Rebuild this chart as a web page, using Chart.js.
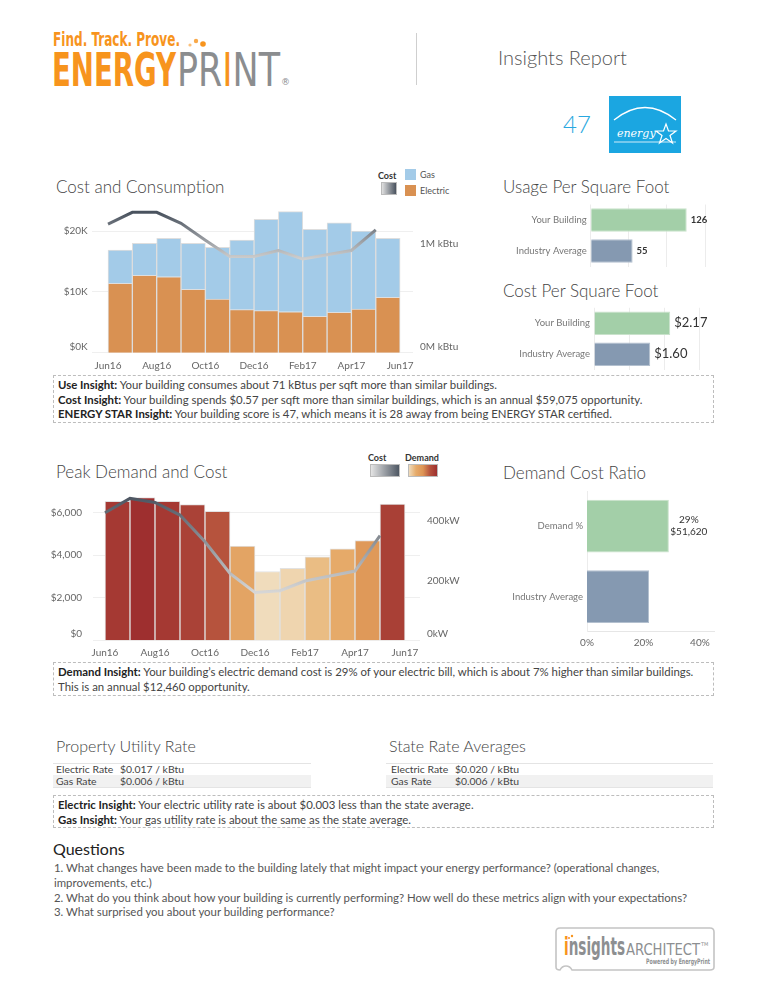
<!DOCTYPE html>
<html>
<head>
<meta charset="utf-8">
<script src="https://cdn.jsdelivr.net/npm/chart.js@4.4.1/dist/chart.umd.min.js"></script>
<style>
  body { margin:0; width:768px; height:996px; position:relative; background:#fff; font-family:Lato, sans-serif; color:#555; overflow:hidden; }
  canvas, .abs { position:absolute; }
  .title { position:absolute; font-size:17px; font-weight:300; color:#444; white-space:nowrap; line-height:20px; }
  .leg { position:absolute; font-size:9px; color:#555; white-space:nowrap; line-height:11px; }
  .leg b { color:#333; }
  .sw { position:absolute; border:1px solid #bbb; box-sizing:border-box; }
  .box { position:absolute; left:53px; width:661px; border:1px dashed #bdbdbd; box-sizing:border-box; font-size:11.4px; color:#444; line-height:14.5px; padding:2px 4px; white-space:nowrap; }
  .box b { color:#222; font-weight:700; }
  .rate { position:absolute; font-size:10.4px; color:#444; line-height:12px; white-space:nowrap; }
  .row { position:absolute; height:12px; }
  .q { position:absolute; left:54px; font-size:11.4px; color:#555; line-height:14.8px; white-space:nowrap; }
</style>
</head>
<body>

<!-- header -->
<svg class="abs" style="left:0;top:0" width="768" height="170">
  <text x="53" y="46" font-family="Liberation Sans Narrow, DejaVu Sans Condensed" font-weight="700" font-size="19" fill="#f7941d" textLength="127" lengthAdjust="spacingAndGlyphs">Find. Track. Prove.</text>
  <circle cx="190" cy="45" r="1.6" fill="#fbc07a"/>
  <circle cx="196" cy="41" r="2.2" fill="#f9a94a"/>
  <circle cx="203" cy="44" r="2.8" fill="#f7941d"/>
  <text x="52" y="86" font-family="Liberation Sans Narrow, DejaVu Sans Condensed" font-weight="700" font-size="46" fill="#f7941d" textLength="124" lengthAdjust="spacingAndGlyphs">ENERGY</text>
  <text x="177" y="86" font-family="Liberation Sans Narrow, DejaVu Sans Condensed" font-size="46" fill="#8b8d8f" textLength="103" lengthAdjust="spacingAndGlyphs">PR<tspan fill="#f7941d">I</tspan>NT</text>
  <text x="281" y="85" font-family="DejaVu Sans" font-size="9" fill="#8b8d8f">®</text>
  <line x1="416.5" y1="33" x2="416.5" y2="85" stroke="#cfcfcf" stroke-width="1"/>
  <text x="498" y="65" font-family="Lato" font-weight="300" font-size="20" fill="#555">Insights Report</text>
  <text x="563" y="133" font-family="Lato" font-weight="300" font-size="24" fill="#29a8e0">47</text>
  <rect x="609" y="96" width="72" height="57" fill="#1ba6e1"/>
  <path d="M614 120 Q645 95 676 120" fill="none" stroke="#fff" stroke-width="1.3"/>
  <text x="617" y="137" font-family="DejaVu Serif" font-style="italic" font-size="11" fill="#fff">energy</text>
  <path d="M666 124 L668.5 131 L676 131 L670 135.5 L672.5 143 L666 138.5 L659.5 143 L662 135.5 L656 131 L663.5 131 Z" fill="none" stroke="#fff" stroke-width="1.2"/>
  <line x1="614" y1="142" x2="676" y2="142" stroke="#fff" stroke-width="0.8"/>
</svg>

<!-- Cost and Consumption -->
<div class="title" style="left:56px;top:177px">Cost and Consumption</div>
<div class="leg" style="left:378px;top:170px"><b>Cost</b></div>
<div class="sw" style="left:381px;top:182px;width:16px;height:13px;background:linear-gradient(to right,#e0e0e0,#49525e)"></div>
<div class="sw" style="left:405px;top:169px;width:11px;height:11px;background:#a3cbe8;border:none"></div>
<div class="leg" style="left:420px;top:169px">Gas</div>
<div class="sw" style="left:405px;top:185px;width:11px;height:11px;background:#d99152;border:none"></div>
<div class="leg" style="left:420px;top:185px">Electric</div>
<canvas id="ccChart" width="415" height="180" style="left:55px;top:195px"></canvas>

<!-- Usage / Cost per sqft -->
<div class="title" style="left:503px;top:177px">Usage Per Square Foot</div>
<canvas id="usageChart" width="230" height="70" style="left:490px;top:200px"></canvas>
<div class="title" style="left:503px;top:281px">Cost Per Square Foot</div>
<canvas id="costSqftChart" width="230" height="66" style="left:490px;top:305px"></canvas>

<div class="box" style="top:375px;height:48px">
  <div><b>Use Insight:</b> Your building consumes about 71 kBtus per sqft more than similar buildings.</div>
  <div><b>Cost Insight:</b> Your building spends $0.57 per sqft more than similar buildings, which is an annual $59,075 opportunity.</div>
  <div><b>ENERGY STAR Insight:</b> Your building score is 47, which means it is 28 away from being ENERGY STAR certified.</div>
</div>

<!-- Peak Demand and Cost -->
<div class="title" style="left:56px;top:462px">Peak Demand and Cost</div>
<div class="leg" style="left:368px;top:452px"><b>Cost</b></div>
<div class="sw" style="left:370px;top:464px;width:30px;height:13px;background:linear-gradient(to right,#e4e4e4,#4e5763)"></div>
<div class="leg" style="left:405px;top:452px"><b>Demand</b></div>
<div class="sw" style="left:408px;top:464px;width:30px;height:13px;background:linear-gradient(to right,#f0dcbc,#e6ab6a,#dd9455,#b5523d,#9e2f2f)"></div>
<canvas id="demandChart" width="420" height="172" style="left:50px;top:488px"></canvas>

<div class="title" style="left:503px;top:463px">Demand Cost Ratio</div>
<canvas id="ratioChart" width="230" height="160" style="left:490px;top:490px"></canvas>

<div class="box" style="top:662px;height:34px">
  <div><b>Demand Insight:</b> Your building’s electric demand cost is 29% of your electric bill, which is about 7% higher than similar buildings.</div>
  <div>This is an annual $12,460 opportunity.</div>
</div>

<!-- Rates -->
<div class="title" style="left:56px;top:736px;font-size:16px">Property Utility Rate</div>
<div class="title" style="left:389px;top:736px;font-size:16px">State Rate Averages</div>
<div class="row" style="left:53px;top:763px;width:258px;border-top:1px solid #e4e4e4"></div>
<div class="row" style="left:53px;top:775px;width:258px;background:#f1f1f1;border-bottom:1px solid #e4e4e4"></div>
<div class="rate" style="left:56px;top:763px">Electric Rate</div>
<div class="rate" style="left:120px;top:763px">$0.017 / kBtu</div>
<div class="rate" style="left:56px;top:775px">Gas Rate</div>
<div class="rate" style="left:120px;top:775px">$0.006 / kBtu</div>
<div class="row" style="left:386px;top:763px;width:327px;border-top:1px solid #e4e4e4"></div>
<div class="row" style="left:386px;top:775px;width:327px;background:#f1f1f1;border-bottom:1px solid #e4e4e4"></div>
<div class="rate" style="left:391px;top:763px">Electric Rate</div>
<div class="rate" style="left:455px;top:763px">$0.020 / kBtu</div>
<div class="rate" style="left:391px;top:775px">Gas Rate</div>
<div class="rate" style="left:455px;top:775px">$0.006 / kBtu</div>

<div class="box" style="top:795px;height:33px">
  <div><b>Electric Insight:</b> Your electric utility rate is about $0.003 less than the state average.</div>
  <div><b>Gas Insight:</b> Your gas utility rate is about the same as the state average.</div>
</div>

<!-- Questions -->
<div class="title" style="left:53px;top:839px;font-size:16px;font-weight:400;color:#222">Questions</div>
<div class="q" style="top:861px">1. What changes have been made to the building lately that might impact your energy performance? (operational changes,<br>improvements, etc.)<br>2. What do you think about how your building is currently performing? How well do these metrics align with your expectations?<br>3. What surprised you about your building performance?</div>

<!-- footer logo -->
<svg class="abs" style="left:550px;top:922px" width="170" height="55">
  <path d="M10 6 H160 Q164 6 164 10 V45 Q164 48 160 48 H22 Q20 44 16 44 Q12 44 10 48 Q6 48 6 45 V10 Q6 6 10 6 Z" fill="#fff" stroke="#c4c4c4" stroke-width="1.6"/>
  <text x="14" y="33" font-family="Liberation Sans Narrow, DejaVu Sans Condensed" font-weight="700" font-size="24" fill="#8d8f91" textLength="61" lengthAdjust="spacingAndGlyphs"><tspan fill="#f7941d">i</tspan>nsights</text>
  <text x="76" y="33" font-family="Liberation Sans Narrow, DejaVu Sans Condensed" font-size="16" fill="#8d8f91" textLength="74" lengthAdjust="spacingAndGlyphs">ARCHITECT</text>
  <text x="151" y="24" font-family="DejaVu Sans" font-size="5" fill="#8d8f91">TM</text>
  <text x="96" y="42" font-family="Liberation Sans Narrow, DejaVu Sans Condensed" font-weight="700" font-size="7.5" fill="#8d8f91" textLength="64" lengthAdjust="spacingAndGlyphs">Powered by EnergyPrint</text>
  <circle cx="19" cy="16" r="1" fill="#f7941d"/><circle cx="22" cy="14" r="1.2" fill="#f7941d"/>
</svg>

<script>
// ---- data ----
const months = ['Jun16','Jul16','Aug16','Sep16','Oct16','Nov16','Dec16','Jan17','Feb17','Mar17','Apr17','May17','Jun17'];
const electricKbtu = [638000, 712000, 699000, 583000, 494000, 396000, 387000, 377000, 334000, 371000, 402000, 509000];
const gasKbtu = [307000, 294000, 353000, 423000, 475000, 641000, 840000, 921000, 801000, 825000, 718000, 543000];
const totalCost = [21150, 23070, 23070, 21260, 18500, 15800, 15800, 16800, 15400, 16100, 16800, 20200];

const peakDemandKw = [465, 478, 465, 454, 432, 315, 230, 241, 279, 306, 334, 456];
const demandCost = [6000, 6675, 6486, 5890, 4635, 3145, 2250, 2330, 2784, 3020, 3255, 4918];

const sqftLabels = ['Your Building', 'Industry Average'];
const usagePerSqft = [126, 55];
const costPerSqft = [2.17, 1.60];

const ratioLabels = ['Demand %', 'Industry Average'];
const demandRatio = [29, 22];
const demandCostTotal = 51620;

// tick labels
const monthTicks = [0, 2, 4, 6, 8, 10, 12];
const costTicks = [0, 10000, 20000];
const kbtuTicks = [0, 1000000];
const demandCostTicks = [0, 2000, 4000, 6000];
const kwTicks = [0, 200, 400];
const usageTicks = [0, 50, 100, 150];
const costSqftTicks = [0, 1, 2, 3];
const ratioTicks = [0, 20, 40];

Chart.defaults.font.family = 'Lato';
Chart.defaults.font.size = 10;
Chart.defaults.color = '#666';

const setTicks = arr => s => { s.ticks = arr.map(v => ({ value: v })); };
// fixed axis size, no extra label padding
const fixW = w => s => { s.width = w; s.paddingTop = 0; s.paddingBottom = 0; };
const fixH = h => s => { s.height = h; s.paddingLeft = 0; s.paddingRight = 0; };
// bottom label sits a bit higher, like the original
const lift = txt => [txt, ''];

// vertical gradient for line coloured by value
function vGrad(c, axisId, vals, dark, light) {
    const chart = c.chart;
    if (!chart.chartArea) return dark;
    const s = chart.scales[axisId];
    const g = chart.ctx.createLinearGradient(0, s.getPixelForValue(Math.max(...vals)), 0, s.getPixelForValue(Math.min(...vals)));
    g.addColorStop(0, dark);
    g.addColorStop(1, light);
    return g;
}

// demand colour ramp
const demandStops = [[0, '#f0dcbc'], [0.15, '#ecc590'], [0.3, '#e6ab6a'], [0.45, '#dd9455'], [0.65, '#c86c43'], [0.82, '#b5523d'], [1, '#9e2f2f']];
function hex(h) { return [1, 3, 5].map(i => parseInt(h.substr(i, 2), 16)); }
function demandColor(v) {
    const lo = Math.min(...peakDemandKw), hi = Math.max(...peakDemandKw);
    const t = (v - lo) / (hi - lo);
    for (let i = 1; i < demandStops.length; i++) {
        if (t <= demandStops[i][0]) {
            const [t0, c0] = demandStops[i - 1], [t1, c1] = demandStops[i];
            const f = (t - t0) / (t1 - t0), a = hex(c0), b = hex(c1);
            return 'rgb(' + a.map((x, k) => Math.round(x + (b[k] - x) * f)).join(',') + ')';
        }
    }
    return demandStops[demandStops.length - 1][1];
}

// value labels next to horizontal bars
const valueLabels = {
    id: 'valueLabels',
    afterDatasetsDraw(chart, args, opts) {
        if (!opts.format) return;
        const ctx = chart.ctx;
        const meta = chart.getDatasetMeta(0);
        ctx.save();
        ctx.fillStyle = '#333';
        ctx.font = opts.font;
        ctx.textBaseline = 'middle';
        meta.data.forEach((bar, i) => {
            const lines = opts.format(chart.data.datasets[0].data[i], i);
            if (opts.center) {
                ctx.textAlign = 'center';
                lines.forEach((t, k) => ctx.fillText(t, bar.x + opts.offset, bar.y - (lines.length - 1) * 6 + k * 12));
            } else {
                ctx.textAlign = 'left';
                ctx.fillText(lines[0], bar.x + opts.offset, bar.y);
            }
        });
        ctx.restore();
    }
};
Chart.register(valueLabels);

// ---- Cost and Consumption ----
new Chart(document.getElementById('ccChart'), {
    type: 'bar',
    data: {
        datasets: [
            {
                type: 'line', label: 'Cost', yAxisID: 'yCost', order: 0,
                data: totalCost.map((v, i) => ({ x: i, y: v })),
                borderColor: c => vGrad(c, 'yCost', totalCost, '#49525e', '#cfcfcf'),
                borderWidth: 3, pointRadius: 0, tension: 0
            },
            {
                label: 'Electric', yAxisID: 'yKbtu', order: 1,
                data: electricKbtu.map((v, i) => ({ x: i + 0.5, y: v })),
                backgroundColor: '#d99152', borderColor: '#dedede', borderWidth: 1,
                barPercentage: 1, categoryPercentage: 1
            },
            {
                label: 'Gas', yAxisID: 'yKbtu', order: 1,
                data: gasKbtu.map((v, i) => ({ x: i + 0.5, y: v })),
                backgroundColor: '#a3cbe8', borderColor: '#dedede', borderWidth: 1,
                barPercentage: 1, categoryPercentage: 1
            }
        ]
    },
    options: {
        responsive: false, animation: false,
        layout: { padding: { top: 5.6 } },
        plugins: { legend: { display: false }, tooltip: { enabled: false } },
        scales: {
            x: {
                type: 'linear', min: -0.67, max: 12.53, stacked: true, offset: false,
                afterBuildTicks: setTicks(monthTicks),
                ticks: { callback: v => months[v], padding: 7, maxRotation: 0, autoSkip: false },
                grid: { display: false, drawTicks: false }, border: { display: false },
                afterFit: fixH(22.3)
            },
            yCost: {
                position: 'left', min: 0, max: 25000,
                afterBuildTicks: setTicks(costTicks),
                ticks: { callback: v => v === 0 ? lift('$0K') : '$' + v / 1000 + 'K', padding: 4 },
                grid: { color: '#efefef', drawTicks: false }, border: { display: false },
                afterFit: fixW(36.7)
            },
            yKbtu: {
                position: 'right', min: 0, max: 1400000, stacked: true,
                afterBuildTicks: setTicks(kbtuTicks),
                ticks: { callback: v => v === 0 ? lift('0M kBtu') : v / 1000000 + 'M kBtu', padding: 7 },
                grid: { display: false, drawTicks: false }, border: { display: false },
                afterFit: fixW(57)
            }
        }
    }
});

// ---- Usage / Cost per square foot ----
function sqftChart(id, values, max, ticks, fmt, font, axisW, padTop, axisH) {
    return new Chart(document.getElementById(id), {
        type: 'bar',
        data: {
            labels: sqftLabels,
            datasets: [{
                data: values,
                backgroundColor: ['#a3cfa8', '#8599b1'],
                borderColor: ['#c9e2cb', '#b3c0cf'], borderWidth: 1,
                barPercentage: 0.755, categoryPercentage: 1
            }]
        },
        options: {
            indexAxis: 'y', responsive: false, animation: false,
            layout: { padding: { top: padTop, right: 15 } },
            plugins: {
                legend: { display: false }, tooltip: { enabled: false },
                valueLabels: { format: v => [fmt(v)], font: font, offset: 4 }
            },
            scales: {
                x: {
                    min: 0, max: max, afterBuildTicks: setTicks(ticks),
                    ticks: { display: false },
                    grid: { color: '#ececec', drawTicks: false }, border: { display: false },
                    afterFit: fixH(axisH)
                },
                y: {
                    ticks: { color: '#777', font: { size: 9.5 }, padding: 4 },
                    grid: { display: false, drawTicks: false }, border: { display: false },
                    afterFit: fixW(axisW)
                }
            }
        }
    });
}
sqftChart('usageChart', usagePerSqft, 150, usageTicks, v => String(v), '700 9.5px Lato', 100.7, 4.5, 3.5);
sqftChart('costSqftChart', costPerSqft, 3.16, costSqftTicks, v => '$' + v.toFixed(2), '13px Lato', 104, 2.8, 1.2);

// ---- Peak Demand and Cost ----
new Chart(document.getElementById('demandChart'), {
    type: 'bar',
    data: {
        datasets: [
            {
                type: 'line', label: 'Cost', yAxisID: 'yCost', order: 0,
                data: demandCost.map((v, i) => ({ x: i, y: v })),
                borderColor: c => vGrad(c, 'yCost', demandCost, '#4e5763', '#d6d6d6'),
                borderWidth: 3, pointRadius: 0, tension: 0
            },
            {
                label: 'Demand', yAxisID: 'yKw', order: 1,
                data: peakDemandKw.map((v, i) => ({ x: i + 0.5, y: v })),
                backgroundColor: peakDemandKw.map(demandColor),
                borderColor: '#e2e2e2', borderWidth: 1,
                barPercentage: 1, categoryPercentage: 1
            }
        ]
    },
    options: {
        responsive: false, animation: false,
        layout: { padding: { top: 3.5 } },
        plugins: { legend: { display: false }, tooltip: { enabled: false } },
        scales: {
            x: {
                type: 'linear', min: -0.48, max: 12.6, offset: false,
                afterBuildTicks: setTicks(monthTicks),
                ticks: { callback: v => months[v], padding: 7, maxRotation: 0, autoSkip: false },
                grid: { display: false, drawTicks: false }, border: { display: false },
                afterFit: fixH(19.8)
            },
            yCost: {
                position: 'left', min: 0, max: 7000,
                afterBuildTicks: setTicks(demandCostTicks),
                ticks: { callback: v => v === 0 ? lift('$0') : '$' + v.toLocaleString('en-US'), padding: 11 },
                grid: { color: '#efefef', drawTicks: false }, border: { display: false },
                afterFit: fixW(43)
            },
            yKw: {
                position: 'right', min: 0, max: 498,
                afterBuildTicks: setTicks(kwTicks),
                ticks: { callback: v => v === 0 ? lift('0kW') : v + 'kW', padding: 7 },
                grid: { display: false, drawTicks: false }, border: { display: false },
                afterFit: fixW(50)
            }
        }
    }
});

// ---- Demand Cost Ratio ----
new Chart(document.getElementById('ratioChart'), {
    type: 'bar',
    data: {
        labels: ratioLabels,
        datasets: [{
            data: demandRatio,
            backgroundColor: ['#a3cfa8', '#8599b1'],
            borderColor: ['#c9e2cb', '#b3c0cf'], borderWidth: 1,
            barPercentage: 0.75, categoryPercentage: 1
        }]
    },
    options: {
        indexAxis: 'y', responsive: false, animation: false,
        layout: { padding: { top: 1, right: 6 } },
        plugins: {
            legend: { display: false }, tooltip: { enabled: false },
            valueLabels: {
                format: (v, i) => i === 0 ? [v + '%', '$' + demandCostTotal.toLocaleString('en-US')] : [],
                font: '10px Lato', offset: 20, center: true
            }
        },
        scales: {
            x: {
                min: 0, max: 45, afterBuildTicks: setTicks(ratioTicks),
                ticks: { callback: v => v + '%', padding: 5 },
                grid: { display: false, drawTicks: false }, border: { color: '#e6e6e6' },
                afterFit: fixH(18.3)
            },
            y: {
                ticks: { color: '#777', font: { size: 9.5 }, padding: 4 },
                grid: { display: false, drawTicks: false }, border: { color: '#ececec' },
                afterFit: fixW(97)
            }
        }
    }
});
</script>
</body>
</html>
